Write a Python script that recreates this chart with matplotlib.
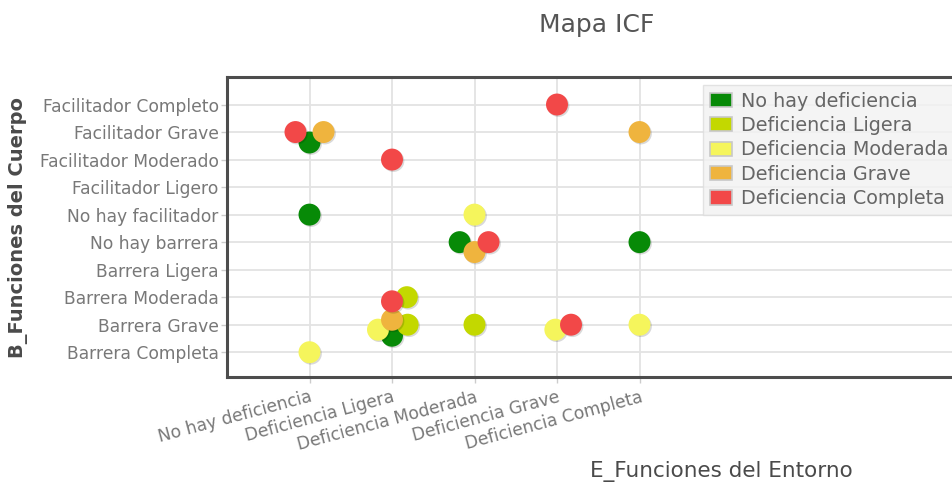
import matplotlib
matplotlib.use("Agg")
import matplotlib.pyplot as plt
import matplotlib.patheffects as pe
from matplotlib.patches import Patch

# categorias de los ejes
x_cats = ["No hay deficiencia", "Deficiencia Ligera", "Deficiencia Moderada",
          "Deficiencia Grave", "Deficiencia Completa"]
y_cats = ["Barrera Completa", "Barrera Grave", "Barrera Moderada",
          "Barrera Ligera", "No hay barrera", "No hay facilitador",
          "Facilitador Ligero", "Facilitador Moderado", "Facilitador Grave",
          "Facilitador Completo"]

series = ["No hay deficiencia", "Deficiencia Ligera", "Deficiencia Moderada",
          "Deficiencia Grave", "Deficiencia Completa"]

# puntos de cada serie (x = entorno, y = cuerpo)
nd_x = ["No hay deficiencia", "No hay deficiencia", "Deficiencia Moderada",
        "Deficiencia Completa", "Deficiencia Ligera"]
nd_y = ["Facilitador Grave", "No hay facilitador", "No hay barrera",
        "No hay barrera", "Barrera Grave"]

dl_x = ["Deficiencia Ligera", "Deficiencia Ligera", "Deficiencia Moderada"]
dl_y = ["Barrera Moderada", "Barrera Grave", "Barrera Grave"]

dm_x = ["Deficiencia Moderada", "Deficiencia Ligera", "Deficiencia Grave",
        "Deficiencia Completa", "No hay deficiencia"]
dm_y = ["No hay facilitador", "Barrera Grave", "Barrera Grave",
        "Barrera Grave", "Barrera Completa"]

dg_x = ["No hay deficiencia", "Deficiencia Completa", "Deficiencia Moderada",
        "Deficiencia Ligera"]
dg_y = ["Facilitador Grave", "Facilitador Grave", "No hay barrera",
        "Barrera Grave"]

dc_x = ["Deficiencia Grave", "No hay deficiencia", "Deficiencia Ligera",
        "Deficiencia Moderada", "Deficiencia Ligera", "Deficiencia Grave"]
dc_y = ["Facilitador Completo", "Facilitador Grave", "Facilitador Moderado",
        "No hay barrera", "Barrera Moderada", "Barrera Grave"]

# desplazamiento para que no se tapen los puntos repetidos
jitter = {
    "No hay deficiencia": ([0, 0, -0.18, 0, 0], [-0.38, 0, 0, 0, -0.4]),
    "Deficiencia Ligera": ([0.18, 0.19, 0], [0, 0, 0]),
    "Deficiencia Moderada": ([0, -0.17, -0.02, 0, 0], [0, -0.18, -0.18, 0, 0]),
    "Deficiencia Grave": ([0.17, 0, 0, 0], [0, 0, -0.36, 0.18]),
    "Deficiencia Completa": ([0, -0.17, 0, 0.17, 0, 0.17], [0, 0, 0, 0, -0.15, 0]),
}
points = {
    "No hay deficiencia": (nd_x, nd_y),
    "Deficiencia Ligera": (dl_x, dl_y),
    "Deficiencia Moderada": (dm_x, dm_y),
    "Deficiencia Grave": (dg_x, dg_y),
    "Deficiencia Completa": (dc_x, dc_y),
}
colors = {
    "No hay deficiencia": "#078a07",
    "Deficiencia Ligera": "#c3d800",
    "Deficiencia Moderada": "#f5f55c",
    "Deficiencia Grave": "#efb43e",
    "Deficiencia Completa": "#f24848",
}

plt.rcParams["font.family"] = ["DejaVu Sans"]

fig = plt.figure(figsize=(9.52, 4.82), dpi=100)
ax = fig.add_axes([227 / 952, 105 / 482, 990 / 952, 300 / 482])

for name in series:
    xs, ys = points[name]
    dx, dy = jitter[name]
    px = [x_cats.index(v) + 1 + d for v, d in zip(xs, dx)]
    py = [y_cats.index(v) + d for v, d in zip(ys, dy)]
    sc = ax.scatter(px, py, s=250, color=colors[name], edgecolors="none",
                    zorder=3)
    sc.set_path_effects([pe.SimplePatchShadow(offset=(1, -1), alpha=0.15,
                                              shadow_rgbFace="black"),
                         pe.Normal()])

ax.set_xlim(0, 12)
ax.set_ylim(-0.9, 10)
ax.set_xticks(range(1, len(x_cats) + 1))
ax.set_xticklabels(x_cats, rotation=15, ha="right", rotation_mode="anchor")
ax.set_yticks(range(len(y_cats)))
ax.set_yticklabels(y_cats)
ax.grid(True, color="#e3e3e3", linewidth=1.3, zorder=0)
ax.set_axisbelow(True)
ax.tick_params(axis="both", colors="#cccccc", labelcolor="#787878",
               labelsize=12.3, length=4, width=1)
ax.tick_params(axis="y", pad=2)
ax.tick_params(axis="x", pad=4)
for sp in ax.spines.values():
    sp.set_color("#4d4d4d")
    sp.set_linewidth(2.2)

fig.text(597 / 952, 1 - 25 / 482, "Mapa ICF", ha="center", va="center",
         fontsize=18, color="#555555")
fig.text(18 / 952, 1 - 228 / 482, "B_Funciones del Cuerpo", rotation=90,
         ha="center", va="center", fontsize=14, fontweight="bold",
         color="#4a4a4a")
fig.text(721 / 952, 1 - 472 / 482, "E_Funciones del Entorno", ha="center",
         va="center", fontsize=15.5, color="#4a4a4a")

handles = [Patch(facecolor=colors[n], edgecolor="#c8c8c8", linewidth=1.2)
           for n in series]
leg = fig.legend(handles, series, loc="upper left",
                 bbox_to_anchor=(703 / 952, 1 - 85 / 482),
                 fontsize=13.8, frameon=True, fancybox=False,
                 handlelength=1.15, handleheight=0.75, handletextpad=0.5,
                 labelspacing=0.28, borderpad=0.35, borderaxespad=0)
leg.get_frame().set_facecolor("#f2f2f2")
leg.get_frame().set_edgecolor("#dddddd")
for t in leg.get_texts():
    t.set_color("#666666")

fig.savefig("out.png", dpi=100)
